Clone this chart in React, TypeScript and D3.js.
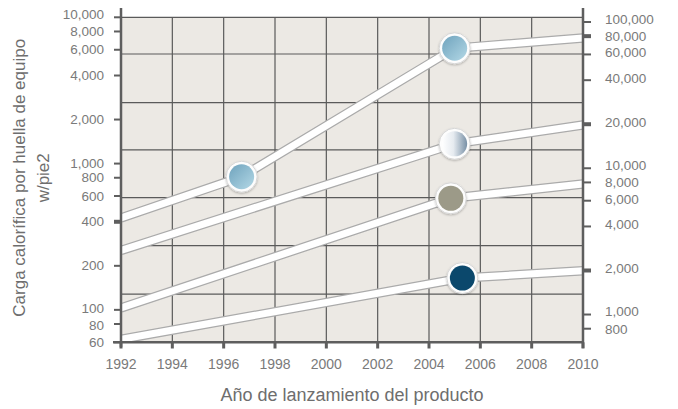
import * as d3 from "d3"

// tick labels
const yearTicks = [1992, 1994, 1996, 1998, 2000, 2002, 2004, 2006, 2008, 2010]
const leftTicks = [60, 80, 100, 200, 400, 600, 800, 1000, 2000, 4000, 6000, 8000, 10000]
const rightTicks = [800, 1000, 2000, 4000, 6000, 8000, 10000, 20000, 40000, 60000, 80000, 100000]
// ticks drawn heavier in the original (where the bands meet the axes)
const boldLeft = [400]
const boldRight = [2000, 20000, 80000]
// horizontal grid (decorative, evenly spaced in the original)
const gridValues = [128, 275, 585, 1240, 2610, 5610, 10000]

// series (W/pie2)
const line1Years = [1992, 1996.7, 2005.0, 2010]
const line1Values = [425, 813, 6140, 7220]
const line2Years = [1992, 2005.0, 2010]
const line2Values = [255, 1365, 1836]
const line3Years = [1992, 2004.85, 2010]
const line3Values = [103, 579, 725]
const line4Years = [1992, 2005.3, 2010]
const line4Values = [62.8, 165, 185]

// markers
const markerYears = [1996.7, 2005.0, 2005.0, 2004.85, 2005.3]
const markerValues = [813, 6140, 1365, 579, 165]
const markerFills = ["url(#gBlue)", "url(#gBlue)", "url(#gSilver)", "#9c9a88", "#0b486c"]

const M2_PER_FT2 = 10.764

const W = 678
const H = 409
const left = 121
const right = 583
const top = 17.3
const bottom = 342.3

const font = "'Liberation Sans', Arial, sans-serif"
const labelColor = "#7a7a7a"
const axisColor = "#5e5e5e"

// small nudges so crowded labels don't collide
const leftNudge: Record<number, number> = { 10000: -3, 100: -1, 80: 1.5 }
const rightNudge: Record<number, number> = { 100000: -2.5, 80000: 0.5, 10000: -3, 8000: 0, 1000: -3, 800: 0.5 }

export default function App() {
  const x = d3.scaleLinear().domain([1992, 2010]).range([left, right])
  const y = d3.scaleLog().domain([60, 10000]).range([bottom, top])
  const yR = d3
    .scaleLog()
    .domain([60 * M2_PER_FT2, 10000 * M2_PER_FT2])
    .range([bottom, top])

  const fmt = d3.format(",")
  const line = d3
    .line<[number, number]>()
    .x((d) => x(d[0]))
    .y((d) => y(d[1]))

  const series: [number, number][][] = [
    line1Years.map((yr, i) => [yr, line1Values[i]]),
    line2Years.map((yr, i) => [yr, line2Values[i]]),
    line3Years.map((yr, i) => [yr, line3Values[i]]),
    line4Years.map((yr, i) => [yr, line4Values[i]]),
  ]

  return (
    <svg
      width={W}
      height={H}
      style={{ position: "absolute", left: 0, top: 0, background: "#fff" }}
      fontFamily={font}
    >
      <defs>
        <clipPath id="plot">
          <rect x={left} y={top} width={right - left} height={bottom - top} />
        </clipPath>
        <linearGradient id="gBlue" x1="0" y1="0" x2="1" y2="1">
          <stop offset="0%" stopColor="#6fa3bd" />
          <stop offset="100%" stopColor="#b3d8e6" />
        </linearGradient>
        <linearGradient id="gSilver" x1="0" y1="0" x2="1" y2="0">
          <stop offset="0%" stopColor="#ffffff" />
          <stop offset="45%" stopColor="#e6ebf0" />
          <stop offset="100%" stopColor="#7890a6" />
        </linearGradient>
        <filter id="shadow" x="-50%" y="-50%" width="200%" height="200%">
          <feDropShadow dx="0" dy="1" stdDeviation="1.2" floodColor="#000" floodOpacity="0.25" />
        </filter>
      </defs>

      {/* plot background */}
      <rect x={left} y={top} width={right - left} height={bottom - top} fill="#ece9e4" />

      {/* grid */}
      <g stroke="#5a5a5a" strokeWidth={1.2}>
        {yearTicks.slice(1, -1).map((yr) => (
          <line key={yr} x1={x(yr)} x2={x(yr)} y1={top} y2={bottom} />
        ))}
        {gridValues.map((v) => (
          <line key={v} x1={left} x2={right} y1={y(v)} y2={y(v)} />
        ))}
      </g>

      {/* bands */}
      <g clipPath="url(#plot)" fill="none">
        {series.map((s, i) => (
          <g key={i}>
            <path d={line(s) ?? ""} stroke="#ababab" strokeWidth={9.5} />
            <path d={line(s) ?? ""} stroke="#ffffff" strokeWidth={7} />
          </g>
        ))}
      </g>

      {/* axes */}
      <g stroke={axisColor}>
        <line x1={left} x2={left} y1={8} y2={347} strokeWidth={2.5} />
        <line x1={right} x2={right} y1={8} y2={348} strokeWidth={2.5} />
        <line x1={113} x2={right} y1={bottom} y2={bottom} strokeWidth={2.5} />
        {leftTicks.map((v) => (
          <line key={v} x1={114} x2={left} y1={y(v)} y2={y(v)} strokeWidth={boldLeft.includes(v) ? 4 : 2} />
        ))}
        {rightTicks.map((v) => (
          <line key={v} x1={right} x2={591} y1={yR(v)} y2={yR(v)} strokeWidth={boldRight.includes(v) ? 4 : 2} />
        ))}
        {yearTicks.map((yr) => (
          <line key={yr} x1={x(yr)} x2={x(yr)} y1={bottom} y2={348.5} strokeWidth={3} />
        ))}
      </g>

      {/* tick labels */}
      <g fill={labelColor} fontSize={13.5}>
        {leftTicks.map((v) => (
          <text key={v} x={104} y={y(v) + (leftNudge[v] ?? 0)} textAnchor="end" dominantBaseline="central">
            {fmt(v)}
          </text>
        ))}
        {rightTicks.map((v) => (
          <text key={v} x={605} y={yR(v) + (rightNudge[v] ?? -1.5)} textAnchor="start" dominantBaseline="central">
            {fmt(v)}
          </text>
        ))}
        {yearTicks.map((yr) => (
          <text key={yr} x={x(yr)} y={369} textAnchor="middle" fontSize={14}>
            {yr}
          </text>
        ))}
      </g>

      {/* markers */}
      {markerYears.map((yr, i) => (
        <g key={i} transform={`translate(${x(yr)},${y(markerValues[i])})`}>
          <circle r={15.5} fill="#fdfdfd" stroke="#d6d6d6" strokeWidth={1} filter="url(#shadow)" />
          <circle r={12.5} fill={markerFills[i]} />
        </g>
      ))}

      {/* titles */}
      <g fill="#6e6e6e" textAnchor="middle">
        <text x={(left + right) / 2} y={401} fontSize={18}>
          Año de lanzamiento del producto
        </text>
        <text transform={`translate(25, ${(top + bottom) / 2 - 2}) rotate(-90)`} fontSize={17}>
          Carga calorífica por huella de equipo
        </text>
        <text transform={`translate(49, ${(top + bottom) / 2 - 2}) rotate(-90)`} fontSize={17}>
          w/pie2
        </text>
      </g>
    </svg>
  )
}
